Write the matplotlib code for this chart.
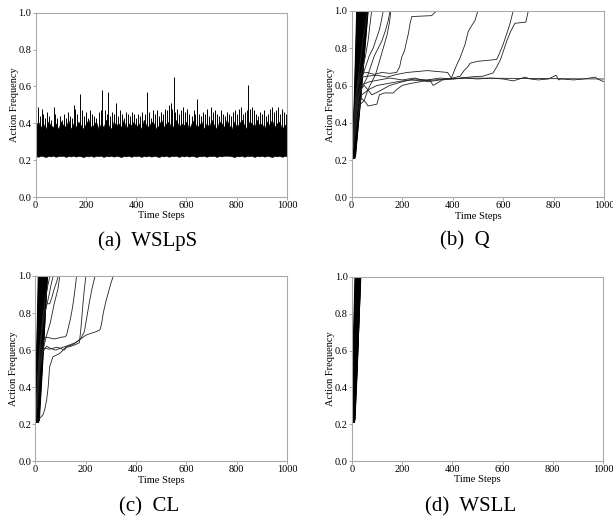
import numpy as np
import matplotlib
matplotlib.use('Agg')
from matplotlib import pyplot as plt

plt.rcParams['font.family'] = ['Liberation Serif', 'DejaVu Serif']

# ---------------- data ----------------
# (a) WSLpS: dense oscillation, drawn as a ragged band plus the spikes above it
WSLPS_BAND_T = list(range(0, 1001, 10))
WSLPS_BAND_TOP = [.39, .41, .38, .40, .37, .41, .39, .38, .40, .37,
                  .41, .39, .38, .42, .37, .40, .38, .41, .39, .37,
                  .40, .42, .38, .39, .41, .37, .40, .38, .42, .39,
                  .37, .41, .39, .40, .38, .42, .37, .40, .39, .41,
                  .38, .40, .37, .42, .39, .38, .41, .40, .37, .39,
                  .42, .38, .40, .41, .37, .39, .42, .38, .40, .39,
                  .41, .37, .40, .42, .38, .39, .41, .37, .40, .38,
                  .42, .39, .37, .41, .40, .38, .42, .39, .37, .41,
                  .38, .40, .42, .39, .37, .41, .40, .38, .42, .39,
                  .40, .37, .41, .39, .42, .38, .40, .41, .37, .39, .40]
WSLPS_BAND_LOW = [.222, .218, .223, .221, .216, .222, .220, .223, .218, .222,
                  .221, .223, .217, .222, .220, .223, .219, .222, .221, .216,
                  .222, .220, .223, .218, .222, .221, .223, .217, .222, .220,
                  .223, .219, .222, .221, .216, .222, .220, .223, .218, .222,
                  .221, .223, .217, .222, .220, .223, .219, .222, .221, .216,
                  .222, .220, .223, .218, .222, .221, .223, .217, .222, .220,
                  .223, .219, .222, .221, .216, .222, .220, .223, .218, .222,
                  .221, .223, .217, .222, .220, .223, .224, .222, .221, .216,
                  .222, .220, .223, .218, .222, .221, .223, .217, .222, .220,
                  .223, .219, .222, .221, .216, .222, .220, .223, .218, .222, .221]
WSLPS_SPIKES = [(3, .47), (11, .49), (18, .44), (24, .48), (31, .45), (38, .43), (45, .46), (52, .44),
                (60, .42), (71, .49), (78, .45), (86, .43), (95, .44), (103, .42), (112, .45), (120, .43),
                (128, .46), (136, .44), (145, .43), (152, .50), (158, .48), (166, .45), (177, .56), (185, .47),
                (193, .44), (201, .46), (210, .43), (218, .47), (226, .45), (234, .44), (242, .43), (250, .46),
                (258, .47), (265, .58), (274, .47), (282, .45), (289, .57), (297, .44), (305, .46), (312, .45),
                (318, .51), (327, .44), (335, .47), (343, .45), (351, .43), (359, .46), (367, .45), (375, .44),
                (384, .46), (392, .45), (400, .43), (408, .45), (416, .44), (424, .46), (433, .45), (442, .57),
                (450, .46), (458, .43), (466, .47), (474, .45), (482, .47), (490, .44), (498, .46), (506, .45),
                (514, .48), (522, .47), (530, .50), (538, .51), (543, .48), (549, .65), (556, .46), (564, .48),
                (572, .45), (580, .47), (588, .49), (596, .46), (604, .48), (612, .45), (620, .44), (628, .47),
                (635, .45), (642, .53), (650, .45), (658, .44), (666, .46), (674, .45), (682, .48), (690, .44),
                (697, .49), (705, .46), (713, .47), (721, .45), (729, .44), (737, .47), (745, .45), (753, .44),
                (761, .46), (769, .45), (777, .44), (785, .46), (793, .47), (801, .45), (809, .48), (817, .49),
                (825, .45), (833, .46), (840, .47), (845, .61), (853, .48), (861, .49), (869, .47), (877, .45),
                (885, .44), (893, .46), (901, .45), (909, .47), (917, .44), (925, .45), (933, .48), (941, .49),
                (949, .46), (957, .47), (965, .49), (973, .45), (981, .48), (989, .46), (996, .45)]

# fast runs: (start step, start value, step at 0.5, step at 1.0)
Q_FAST = [(3, .21, 10, 20), (4, .22, 11, 22), (4, .21, 12, 24), (5, .22, 13, 26), (5, .23, 14, 28),
          (6, .21, 15, 30), (6, .22, 16, 32), (7, .21, 17, 34), (7, .24, 18, 36), (8, .22, 19, 38),
          (8, .21, 20, 40), (9, .23, 21, 42), (9, .22, 22, 44), (10, .21, 23, 46), (10, .24, 24, 48),
          (11, .22, 25, 50), (11, .21, 26, 52), (12, .23, 28, 55), (12, .22, 30, 58), (13, .23, 32, 62),
          (14, .22, 34, 65), (6, .30, 14, 30), (8, .26, 18, 40), (5, .35, 12, 26), (9, .25, 21, 45),
          (7, .22, 16, 34), (10, .22, 24, 50), (11, .24, 26, 55), (13, .21, 30, 60), (15, .22, 33, 64)]
CL_FAST = [(0, .21, 4, 12), (1, .22, 5, 14), (1, .23, 6, 16), (2, .21, 7, 18), (2, .22, 8, 20),
           (3, .21, 9, 22), (3, .24, 10, 24), (4, .22, 11, 26), (4, .21, 12, 28), (5, .23, 13, 30),
           (5, .22, 14, 32), (6, .21, 15, 34), (6, .24, 16, 36), (7, .22, 17, 38), (8, .23, 19, 40),
           (9, .22, 21, 42), (10, .23, 23, 45), (2, .30, 9, 22), (4, .26, 13, 30), (1, .33, 6, 15),
           (6, .22, 18, 38), (3, .23, 11, 26), (8, .21, 20, 42), (12, .22, 25, 46), (14, .23, 27, 48),
           (11, .22, 24, 44), (16, .22, 28, 48), (13, .21, 26, 46)]
WSLL_FAST = [(0, .21, 3, 12), (1, .22, 4, 14), (1, .23, 5, 15), (2, .21, 6, 17), (2, .22, 7, 18),
             (3, .21, 8, 19), (3, .24, 9, 20), (4, .22, 10, 22), (4, .21, 11, 23), (5, .23, 12, 24),
             (5, .22, 13, 26), (6, .21, 14, 27), (6, .24, 15, 28), (7, .22, 16, 29), (8, .23, 17, 30),
             (9, .22, 18, 32), (10, .25, 19, 33), (11, .22, 20, 34), (12, .23, 21, 34), (2, .28, 8, 20),
             (4, .26, 11, 24), (7, .21, 15, 30), (3, .22, 9, 22), (5, .21, 13, 27), (10, .21, 20, 35)]

# slower runs of (b) Q
Q_T1 = [0, 8, 15, 25, 33, 60, 90, 120, 150, 178, 190, 198, 210, 218, 225, 231, 238, 317, 328, 337, 1000]
Q_V1 = [.22, .35, .5, .62, .665, .67, .66, .67, .665, .67, .70, .75, .79, .84, .88, .93, .97, .975, .99, 1.0, 1.0]
Q_T2 = [0, 8, 18, 30, 60, 100, 140, 180, 220, 260, 300, 340, 380, 395, 416, 430, 449, 462, 475, 489, 500, 1000]
Q_V2 = [.22, .4, .55, .64, .65, .655, .645, .66, .67, .675, .68, .675, .67, .64, .71, .75, .82, .89, .92, .95, 1.0, 1.0]
Q_T3 = [0, 8, 20, 35, 70, 110, 150, 200, 250, 300, 350, 400, 430, 445, 460, 470, 500, 540, 575, 588, 600, 610,
        620, 627, 640, 1000]
Q_V3 = [.22, .35, .5, .6, .62, .63, .64, .63, .64, .62, .63, .64, .65, .68, .70, .72, .73, .735, .74, .78, .82,
        .86, .9, .93, 1.0, 1.0]
Q_T4 = [0, 8, 20, 40, 70, 100, 140, 180, 230, 280, 330, 380, 430, 481, 520, 560, 575, 590, 600, 615, 630, 647,
        690, 700, 1000]
Q_V4 = [.22, .3, .45, .55, .58, .6, .61, .62, .63, .625, .63, .635, .64, .647, .65, .667, .7, .74, .78, .84, .89,
        .934, .94, 1.0, 1.0]
Q_T5 = [0, 10, 20, 35, 50, 80, 110, 150, 200, 250, 300, 350, 400, 450, 500, 550, 600, 640, 665, 687, 707, 740,
        780, 810, 820, 830, 880, 920, 965, 975, 1000]
Q_V5 = [.22, .35, .5, .58, .6, .55, .57, .6, .62, .635, .63, .64, .635, .64, .635, .64, .635, .625, .635, .645,
        .635, .63, .635, .655, .63, .635, .63, .635, .645, .635, .62]
Q_T6 = [0, 8, 15, 25, 40, 55, 65, 100, 110, 130, 165, 180, 200, 230, 270, 310, 323, 360, 400, 440, 1000]
Q_V6 = [.22, .3, .42, .5, .53, .51, .49, .5, .55, .56, .56, .58, .6, .61, .62, .63, .6, .63, .635, .64, .635]
Q_T7 = [0, 6, 12, 20, 28, 36, 45, 55, 62, 1000]
Q_V7 = [.22, .3, .45, .58, .66, .75, .85, .93, 1.0, 1.0]
Q_T8 = [0, 8, 16, 25, 35, 45, 55, 65, 72, 79, 1000]
Q_V8 = [.22, .32, .48, .6, .66, .7, .76, .84, .92, 1.0, 1.0]
Q_T9 = [0, 8, 18, 30, 45, 60, 75, 90, 105, 120, 135, 145, 152, 1000]
Q_V9 = [.22, .3, .45, .55, .6, .64, .7, .76, .8, .84, .9, .95, 1.0, 1.0]
Q_T10 = [0, 10, 22, 35, 50, 65, 80, 95, 110, 125, 140, 150, 155, 1000]
Q_V10 = [.22, .3, .42, .5, .52, .58, .62, .66, .73, .8, .87, .94, 1.0, 1.0]
Q_T11 = [0, 8, 15, 25, 40, 55, 70, 85, 100, 110, 118, 125, 1000]
Q_V11 = [.22, .35, .48, .6, .64, .7, .76, .8, .86, .9, .95, 1.0, 1.0]

# slower runs of (c) CL
CL_T1 = [0, 6, 12, 20, 30, 38, 50, 60, 75, 90, 105, 118, 124, 131, 138, 144, 150, 157, 164]
CL_V1 = [.22, .3, .45, .58, .64, .67, .668, .665, .66, .665, .67, .672, .68, .72, .76, .8, .85, .92, 1.0]
CL_T2 = [0, 5, 10, 18, 28, 38, 55, 70, 85, 100, 115, 124, 140, 160, 175, 180, 185, 190, 195, 201]
CL_V2 = [.22, .3, .42, .52, .58, .61, .605, .61, .615, .61, .6, .615, .62, .63, .64, .7, .78, .86, .93, 1.0]
CL_T3 = [0, 8, 20, 30, 37, 45, 51, 57, 70, 97, 123, 150, 180, 200, 220, 243, 257, 263, 270, 280, 290, 300, 310]
CL_V3 = [.22, .23, .235, .25, .276, .33, .40, .51, .564, .582, .618, .63, .66, .68, .69, .70, .71, .74, .8, .86,
         .91, .96, 1.0]
CL_T4 = [0, 5, 12, 20, 30, 45, 60, 80, 100, 120, 140, 160, 180, 195, 205, 215, 225, 237]
CL_V4 = [.22, .3, .45, .55, .6, .62, .61, .6, .61, .62, .63, .64, .66, .7, .78, .86, .93, 1.0]
CL_T5 = [0, 5, 12, 20, 28, 37, 57, 65, 75, 85, 91]
CL_V5 = [.22, .32, .48, .62, .75, .85, .85, .88, .93, .97, 1.0]
CL_T6 = [0, 5, 10, 18, 25, 35, 45, 55, 62, 71]
CL_V6 = [.22, .3, .45, .6, .7, .78, .84, .9, .95, 1.0]
CL_T7 = [0, 6, 12, 20, 30, 40, 50, 58]
CL_V7 = [.22, .35, .5, .65, .78, .88, .95, 1.0]
CL_T8 = [0, 8, 18, 30, 45, 60, 75, 90, 97]
CL_V8 = [.22, .3, .5, .6, .68, .75, .85, .93, 1.0]

Q_SLOW = [(Q_T1, Q_V1), (Q_T2, Q_V2), (Q_T3, Q_V3), (Q_T4, Q_V4), (Q_T5, Q_V5), (Q_T6, Q_V6),
          (Q_T7, Q_V7), (Q_T8, Q_V8), (Q_T9, Q_V9), (Q_T10, Q_V10), (Q_T11, Q_V11)]
CL_SLOW = [(CL_T1, CL_V1), (CL_T2, CL_V2), (CL_T3, CL_V3), (CL_T4, CL_V4), (CL_T5, CL_V5),
           (CL_T6, CL_V6), (CL_T7, CL_V7), (CL_T8, CL_V8)]

CAPTIONS = ['(a)  WSLpS', '(b)  Q', '(c)  CL', '(d)  WSLL']
X_TICKS = [0, 200, 400, 600, 800, 1000]
Y_TICKS = [0.0, 0.2, 0.4, 0.6, 0.8, 1.0]

# ---------------- layout ----------------
fig = plt.figure(figsize=(6.13, 5.23), dpi=100)
rects = [[0.0582, 0.6233, 0.4100, 0.3524],
         [0.5737, 0.6228, 0.4116, 0.3562],
         [0.0576, 0.1180, 0.4106, 0.3543],
         [0.5742, 0.1185, 0.4095, 0.3519]]
cap_pos = [(0.240, 0.539), (0.758, 0.539), (0.243, 0.030), (0.768, 0.030)]
axes = [fig.add_axes(r) for r in rects]

for ax in axes:
    ax.set_xlim(0, 1000)
    ax.set_ylim(0, 1.0)
    ax.set_xticks(X_TICKS)
    ax.set_yticks(Y_TICKS)
    ax.set_yticklabels(['%.1f' % v for v in Y_TICKS])
    ax.tick_params(labelsize=7.5, length=2, width=0.6, color='#999999', pad=1)
    for s in ax.spines.values():
        s.set_color('#aaaaaa')
        s.set_linewidth(0.8)
    ax.set_xlabel('Time Steps', fontsize=7.5)
    ax.set_ylabel('Action Frequency', fontsize=7.5)
    ax.xaxis.set_label_coords(0.5, -0.078)
    ax.yaxis.set_label_coords(-0.068, 0.5)


def draw_fast(ax, runs, keep_top):
    for t0, v0, th, t1 in runs:
        xs = [t0, th, t1]
        ys = [v0, 0.5, 1.0]
        if keep_top:
            xs.append(1000)
            ys.append(1.0)
        ax.plot(xs, ys, color='black', lw=0.8)


# (a)
ax = axes[0]
ax.fill_between(WSLPS_BAND_T, WSLPS_BAND_LOW, WSLPS_BAND_TOP, color='black', lw=0.3)
sp_t = [p[0] for p in WSLPS_SPIKES]
sp_h = [p[1] for p in WSLPS_SPIKES]
ax.vlines(sp_t, 0.3, sp_h, color='black', lw=0.7)

# (b)
ax = axes[1]
draw_fast(ax, Q_FAST, True)
for t, v in Q_SLOW:
    ax.plot(t, v, color='#222222', lw=0.6)

# (c)
ax = axes[2]
draw_fast(ax, CL_FAST, False)
for t, v in CL_SLOW:
    ax.plot(t, v, color='#222222', lw=0.6)

# (d)
ax = axes[3]
draw_fast(ax, WSLL_FAST, False)

for (cx, cy), cap in zip(cap_pos, CAPTIONS):
    fig.text(cx, cy, cap, ha='center', va='center', fontsize=15)

fig.savefig('out.png', dpi=100)
